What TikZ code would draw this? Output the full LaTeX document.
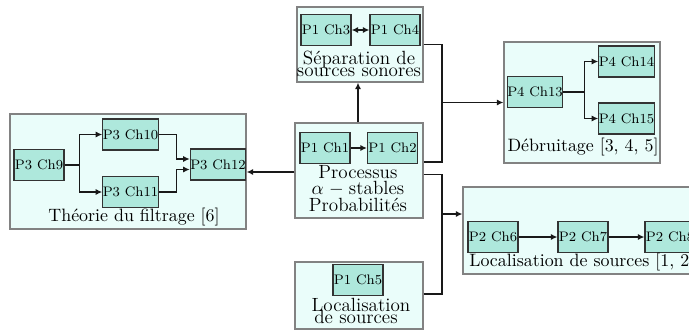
\documentclass[tikz,border=0pt]{standalone}
\usetikzlibrary{arrows.meta,calc}
\definecolor{innerfill}{RGB}{174,232,220}
\definecolor{outerfill}{RGB}{234,253,250}
\definecolor{outerdraw}{RGB}{130,130,130}
\newlength\pxu \setlength\pxu{0.581pt}
\tikzset{
 outerbox/.style={draw=outerdraw, fill=outerfill, line width=0.7pt, inner sep=0pt},
 chap/.style={draw=black!80, fill=innerfill, line width=0.7pt, minimum width=50\pxu, minimum height=31\pxu, inner sep=0pt, font=\fontsize{8}{9}\selectfont},
 lbl/.style={anchor=base, inner sep=0pt, font=\fontsize{10.4}{12}\selectfont},
 mlbl/.style={anchor=base, inner sep=0pt, font=\fontsize{11.1}{12}\selectfont},
 conn/.style={line width=0.75pt, black!90},
 arr/.style={conn, -{Latex[length=3.8pt,width=3.6pt]}},
 dbl/.style={conn, {Latex[length=3.8pt,width=3.6pt]}-{Latex[length=3.8pt,width=3.6pt]}},
}
\begin{document}
\begin{tikzpicture}[x=0.581pt, y=-0.581pt]
\useasboundingbox (0,0) rectangle (689,331);
\clip (0,0) rectangle (689,331);
% outer boxes
\node[outerbox, minimum width=236\pxu, minimum height=115\pxu] (filt) at (128,171.5) {};
\node[outerbox, minimum width=126\pxu, minimum height=75\pxu] (sep) at (360,44.5) {};
\node[outerbox, minimum width=128\pxu, minimum height=95\pxu] (proc) at (359,170.5) {};
\node[outerbox, minimum width=128\pxu, minimum height=67\pxu] (loca) at (359,295.5) {};
\node[outerbox, minimum width=156\pxu, minimum height=121\pxu] (deb) at (582,102.5) {};
\node[outerbox, minimum width=237\pxu, minimum height=87\pxu] (locb) at (581.5,230.5) {};
% chapters
\node[chap] (c9) at (39,165) {P3 Ch9};
\node[chap] (c10) at (130.5,134.5) {P3 Ch10};
\node[chap] (c11) at (130.5,192) {P3 Ch11};
\node[chap] (c12) at (218,164.5) {P3 Ch12};
\node[chap] (c3) at (326,30) {P1 Ch3};
\node[chap] (c4) at (395,30) {P1 Ch4};
\node[chap] (c1) at (325,148) {P1 Ch1};
\node[chap] (c2) at (392.5,148) {P1 Ch2};
\node[chap] (c5) at (358,280) {P1 Ch5};
\node[chap] (c13) at (535,92) {P4 Ch13};
\node[chap] (c14) at (626.5,61.5) {P4 Ch14};
\node[chap] (c15) at (626.5,118.5) {P4 Ch15};
\node[chap] (c6) at (493,237) {P2 Ch6};
\node[chap] (c7) at (583,237) {P2 Ch7};
\node[chap] (c8) at (670,237) {P2 Ch8};
% labels
\node[lbl] (tfilt) at (134,221.5) {Théorie du filtrage [6]};
\node[mlbl] (tsepa) at (359,64) {Séparation de};
\node[mlbl] (tsepb) at (359,76.7) {sources sonores};
\node[mlbl] (tproca) at (358,178.3) {Processus};
\node[mlbl] (tprocb) at (358,194.3) {$\alpha\;-\;$stables};
\node[mlbl] (tprocc) at (358,211.7) {Probabilités};
\node[mlbl] (tlocaa) at (361,311.7) {Localisation};
\node[mlbl] (tlocab) at (356,323.3) {de sources};
\node[lbl] (tdeb) at (583,151.7) {Débruitage [3, 4, 5]};
\node[lbl, anchor=base west] (tlocb) at (469,266) {Localisation de sources [1, 2]};
% connectors inside
\draw[arr] (c9.east) -- ++(15,0) |- (c10.west);
\draw[arr] (c9.east) -- ++(15,0) |- (c11.west);
\draw[arr] (c10.east) -- ++(18,0) |- ($(c12.west)+(0,-5.5)$);
\draw[arr] (c11.east) -- ++(18,0) |- ($(c12.west)+(0,5)$);
\draw[dbl] (c3) -- (c4);
\draw[arr] (c1) -- (c2);
\draw[arr] (c13.east) -- ++(21,0) |- (c14.west);
\draw[arr] (c13.east) -- ++(21,0) |- (c15.west);
\draw[arr] (c6) -- (c7);
\draw[arr] (c7) -- (c8);
% connectors between boxes
\draw[arr] (proc.north -| 358,0) -- (sep.south -| 358,0);
\draw[arr] ($(proc.west)+(0,1.5)$) -- ($(proc.west -| filt.east)+(0,1.5)$);
\coordinate (j1) at (442,102.5);
\coordinate (j2) at (442,214);
\draw[conn] (sep.east) -| (j1);
\draw[conn] ($(proc.east)+(0,-8.5)$) -| (j1);
\draw[arr] (j1) -- (deb.west);
\draw[conn] ($(proc.east)+(0,3.8)$) -| (j2);
\draw[conn] ($(loca.east)+(0,-1.5)$) -| (j2);
\draw[arr] (j2) -- (j2 -| locb.west);
\end{tikzpicture}
\end{document}
